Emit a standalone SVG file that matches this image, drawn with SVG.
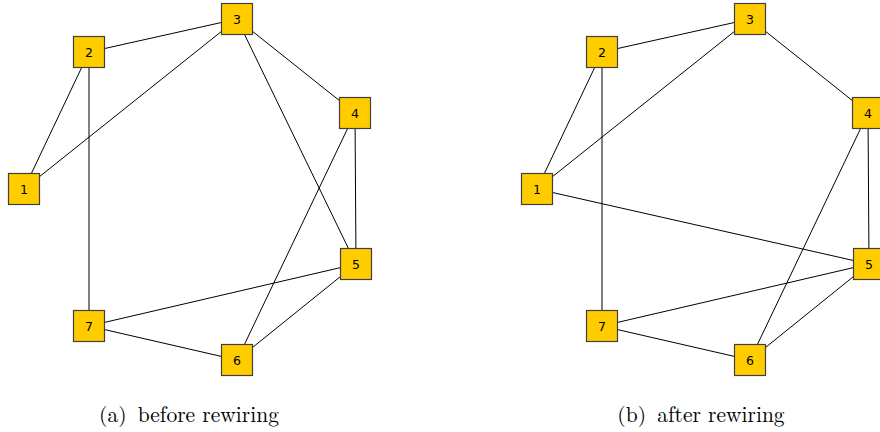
<svg xmlns="http://www.w3.org/2000/svg" width="880" height="432" viewBox="0 0 880 432">
  <style>
    .edge { stroke: #000; stroke-width: 1; fill: none; }
    .box { fill: #FFCC00; stroke: #3f3f3f; stroke-width: 1.2; }
    .lbl { font-family: "DejaVu Sans", "Noto Sans", sans-serif; font-size: 12.5px; fill: #000; text-anchor: middle; dominant-baseline: central; }
    .cap { font-family: "Latin Modern Roman", "Liberation Serif", serif; font-size: 21.5px; fill: #000; text-anchor: middle; }
  </style>
  <rect width="880" height="432" fill="#fff"/>

  <!-- panel (a): before rewiring -->
  <g id="panel-a">
    <g id="edges-a">
      <line class="edge" x1="24" y1="189" x2="89" y2="52"/>
      <line class="edge" x1="24" y1="189" x2="237" y2="19"/>
      <line class="edge" x1="89" y1="52" x2="237" y2="19"/>
      <line class="edge" x1="89" y1="52" x2="89" y2="326"/>
      <line class="edge" x1="237" y1="19" x2="355" y2="113"/>
      <line class="edge" x1="237" y1="19" x2="356" y2="264"/>
      <line class="edge" x1="355" y1="113" x2="356" y2="264"/>
      <line class="edge" x1="355" y1="113" x2="237" y2="360"/>
      <line class="edge" x1="356" y1="264" x2="89" y2="326"/>
      <line class="edge" x1="356" y1="264" x2="237" y2="360"/>
      <line class="edge" x1="89" y1="326" x2="237" y2="360"/>
    </g>
    <g id="a-n1"><rect class="box" x="8.5" y="173.5" width="31" height="31"/><text class="lbl" x="24" y="189">1</text></g>
    <g id="a-n2"><rect class="box" x="73.5" y="36.5" width="31" height="31"/><text class="lbl" x="89" y="52">2</text></g>
    <g id="a-n3"><rect class="box" x="221.5" y="3.5" width="31" height="31"/><text class="lbl" x="237" y="19">3</text></g>
    <g id="a-n4"><rect class="box" x="339.5" y="97.5" width="31" height="31"/><text class="lbl" x="355" y="113">4</text></g>
    <g id="a-n5"><rect class="box" x="340.5" y="248.5" width="31" height="31"/><text class="lbl" x="356" y="264">5</text></g>
    <g id="a-n6"><rect class="box" x="221.5" y="344.5" width="31" height="31"/><text class="lbl" x="237" y="360">6</text></g>
    <g id="a-n7"><rect class="box" x="73.5" y="310.5" width="31" height="31"/><text class="lbl" x="89" y="326">7</text></g>
    <text class="cap" x="189" y="422">(a) <tspan dx="4">before rewiring</tspan></text>
  </g>

  <!-- panel (b): after rewiring, shifted right -->
  <g id="panel-b" transform="translate(513,0)">
    <g id="edges-b">
      <line class="edge" x1="24" y1="189" x2="89" y2="52"/>
      <line class="edge" x1="24" y1="189" x2="237" y2="19"/>
      <line class="edge" x1="89" y1="52" x2="237" y2="19"/>
      <line class="edge" x1="89" y1="52" x2="89" y2="326"/>
      <line class="edge" x1="237" y1="19" x2="355" y2="113"/>
      <line class="edge" x1="24" y1="189" x2="356" y2="264"/>
      <line class="edge" x1="355" y1="113" x2="356" y2="264"/>
      <line class="edge" x1="355" y1="113" x2="237" y2="360"/>
      <line class="edge" x1="356" y1="264" x2="89" y2="326"/>
      <line class="edge" x1="356" y1="264" x2="237" y2="360"/>
      <line class="edge" x1="89" y1="326" x2="237" y2="360"/>
    </g>
    <g id="b-n1"><rect class="box" x="8.5" y="173.5" width="31" height="31"/><text class="lbl" x="24" y="189">1</text></g>
    <g id="b-n2"><rect class="box" x="73.5" y="36.5" width="31" height="31"/><text class="lbl" x="89" y="52">2</text></g>
    <g id="b-n3"><rect class="box" x="221.5" y="3.5" width="31" height="31"/><text class="lbl" x="237" y="19">3</text></g>
    <g id="b-n4"><rect class="box" x="339.5" y="97.5" width="31" height="31"/><text class="lbl" x="355" y="113">4</text></g>
    <g id="b-n5"><rect class="box" x="340.5" y="248.5" width="31" height="31"/><text class="lbl" x="356" y="264">5</text></g>
    <g id="b-n6"><rect class="box" x="221.5" y="344.5" width="31" height="31"/><text class="lbl" x="237" y="360">6</text></g>
    <g id="b-n7"><rect class="box" x="73.5" y="310.5" width="31" height="31"/><text class="lbl" x="89" y="326">7</text></g>
    <text class="cap" x="188" y="422">(b) <tspan dx="4">after rewiring</tspan></text>
  </g>
</svg>
